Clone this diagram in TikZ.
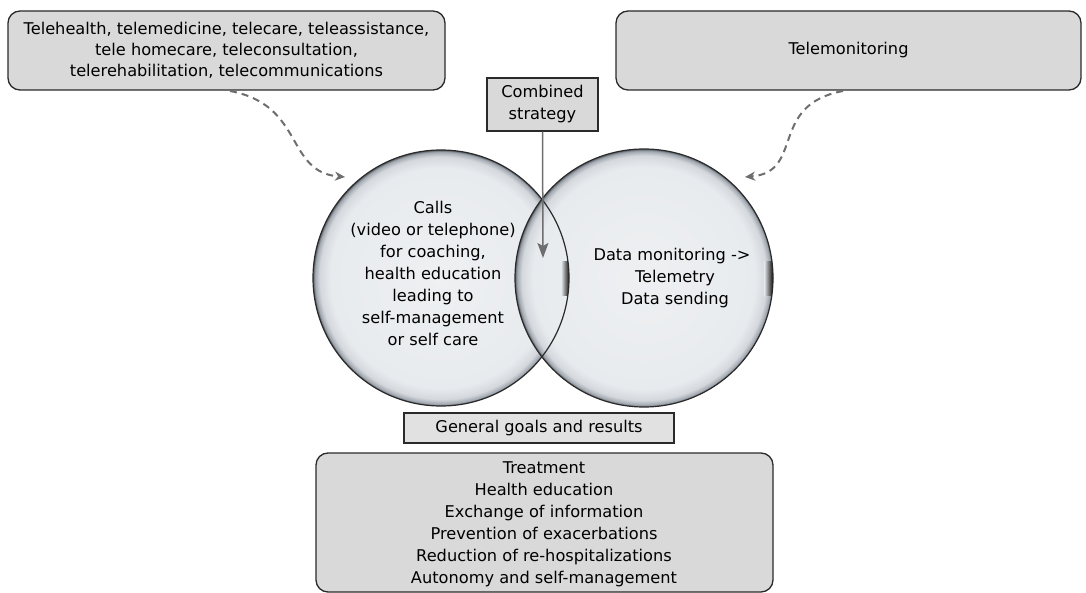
\documentclass[tikz,border=0pt]{standalone}
\usepackage{fontspec}
\setmainfont{DejaVu Sans}
\usetikzlibrary{arrows.meta}
\definecolor{boxfill}{HTML}{D9D9D9}
\definecolor{boxline}{HTML}{2A2A2A}
\definecolor{arrgray}{HTML}{6E6E6E}
\definecolor{ballA}{HTML}{EEF0F2}
\definecolor{ballB}{HTML}{E8EBEE}
\definecolor{ballC}{HTML}{D4D8DD}
\definecolor{ballD}{HTML}{A2A8B0}
\definecolor{ballE}{HTML}{5A5F66}
\pgfdeclareradialshading{ball}{\pgfpoint{0bp}{0bp}}{color(0bp)=(ballA); color(21.5bp)=(ballB); color(23.7bp)=(ballC); color(24.6bp)=(ballD); color(25bp)=(ballE); color(50bp)=(ballE)}
\tikzset{
  txt/.style={font=\fontsize{16.2}{22}\selectfont, align=center, inner sep=0pt},
  rbox/.style={draw=boxline, line width=1.3pt, fill=boxfill, rounded corners=12pt},
  sbox/.style={draw=boxline, line width=1.3pt, fill=boxfill},
  dasharr/.style={draw=arrgray, line width=2pt, dash pattern=on 7pt off 5pt, -{Stealth[length=10pt,width=9pt,inset=3pt]}},
  solarr/.style={draw=arrgray, line width=1.5pt, -{Stealth[length=15pt,width=11pt,inset=3pt]}},
  ring/.style={draw=boxline, line width=1.2pt},
}
\begin{document}
\begin{tikzpicture}[x=1pt,y=-1pt]
\useasboundingbox (0,0) rectangle (1086,593);
% top boxes
\node[rbox, minimum width=437pt, minimum height=79pt] (TL) at (226.5,50.5) {};
\node[txt, font=\fontsize{16.2}{21}\selectfont] (TLt) at (TL.center) {Telehealth, telemedicine, telecare, teleassistance,\\tele homecare, teleconsultation,\\telerehabilitation, telecommunications};
\node[rbox, minimum width=465pt, minimum height=79pt] (TR) at (848.5,50.5) {};
\node[txt] (TRt) at (TR.center) {Telemonitoring};
% circles
\node[circle, minimum size=256pt, inner sep=0pt, shading=ball] (L) at (441,278) {};
\node[circle, minimum size=258pt, inner sep=0pt, shading=ball] (R) at (644,278) {};
\begin{scope}
  \clip (441,278) circle (128pt);
  \shade[shading=ball, fill opacity=0.6] (644,278) circle (129pt);
\end{scope}
% edge artifacts
\begin{scope}
  \clip (441,278) circle (128pt);
  \shade[left color=ballB, right color=black] (561,262) rectangle (570,296);
\end{scope}
\begin{scope}
  \clip (644,278) circle (129pt);
  \shade[left color=ballB, right color=black] (764,262) rectangle (773.5,296);
\end{scope}
\draw[ring] (L.center) circle (128pt);
\draw[ring] (R.center) circle (129pt);
\node[txt] (Lt) at (433,273.5) {Calls\\(video or telephone)\\for coaching,\\health education\\leading to\\self-management\\or self care};
\node[txt] (Rt) at (672,278) {Data monitoring ->\\\hspace*{6pt}Telemetry\\\hspace*{6pt}Data sending};
% combined strategy
\node[sbox, minimum width=111pt, minimum height=53pt] (CS) at (542.5,104.5) {};
\node[txt] (CSt) at (CS.center) {Combined\\strategy};
\coordinate (CSend) at (543,258);
\draw[solarr] (CS.south) -- (CSend);
% dashed arrows
\coordinate (Lin) at (345,177);
\coordinate (Rin) at (745,177);
\draw[dasharr] (230,91) .. controls (305,105) and (285,172) .. (Lin);
\draw[dasharr] (843,91) .. controls (768,105) and (805,172) .. (Rin);
% goals
\node[sbox, fill=boxfill!80!white, minimum width=270pt, minimum height=30pt] (GG) at (539,428) {};
\node[txt] (GGt) at (GG.center) {General goals and results};
\node[rbox, minimum width=457pt, minimum height=139pt] (BB) at (544.5,522.5) {};
\node[txt] (BBt) at (544,524) {Treatment\\Health education\\Exchange of information\\Prevention of exacerbations\\Reduction of re-hospitalizations\\Autonomy and self-management};
\end{tikzpicture}
\end{document}
